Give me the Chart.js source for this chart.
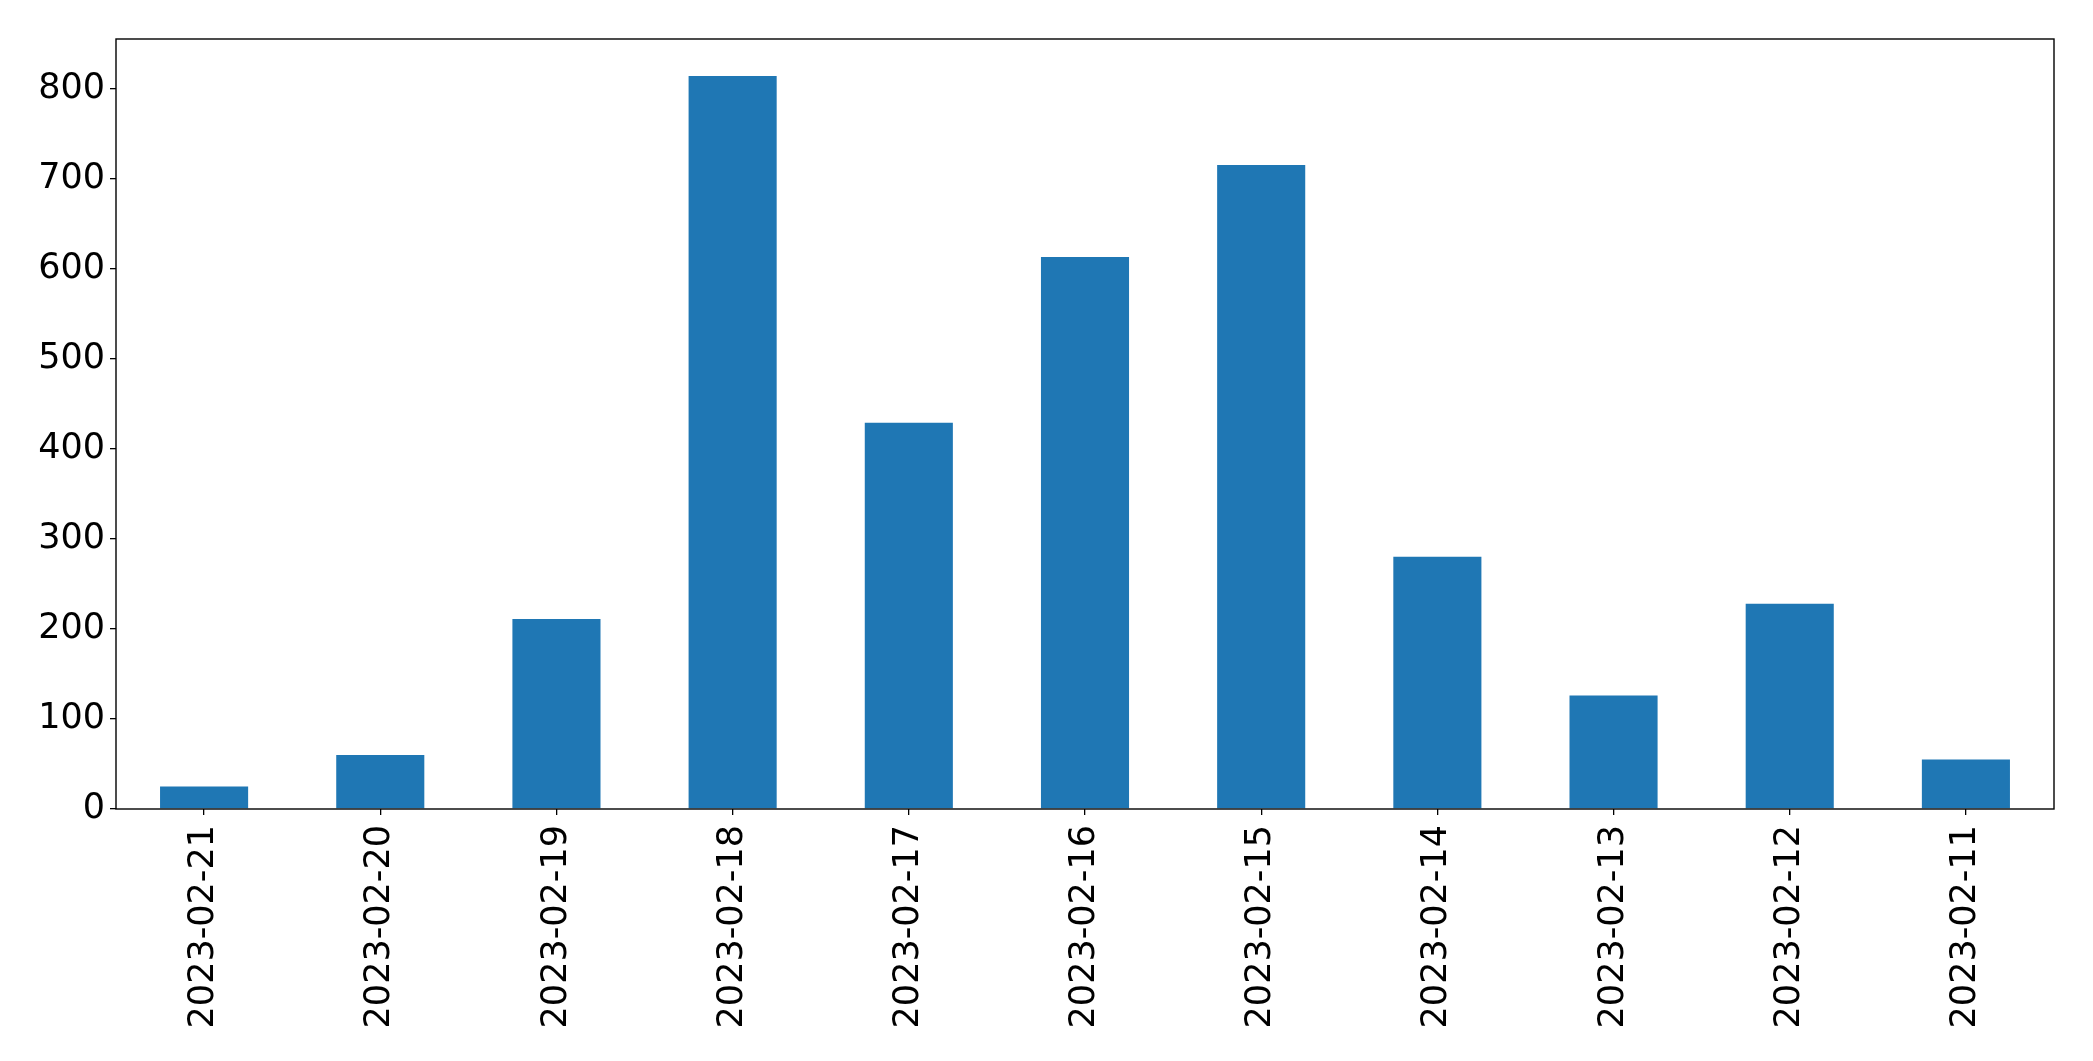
<!DOCTYPE html>
<html>
<head>
<meta charset="utf-8">
<script src="https://cdn.jsdelivr.net/npm/chart.js@4.4.0/dist/chart.umd.min.js"></script>
<style>
  html, body { margin: 0; padding: 0; background: #fff; }
  #wrap { width: 2093px; height: 1061px; position: relative; }
</style>
</head>
<body>
<div id="wrap"><canvas id="myChart"></canvas></div>
<script>
const dates = ['2023-02-21', '2023-02-20', '2023-02-19', '2023-02-18', '2023-02-17', '2023-02-16',
               '2023-02-15', '2023-02-14', '2023-02-13', '2023-02-12', '2023-02-11'];
const counts = [25, 60, 211, 814, 429, 613, 715, 280, 126, 228, 55];
const yTicks = [0, 100, 200, 300, 400, 500, 600, 700, 800];
const yMax = 855;

// box around the plot area, like the matplotlib frame
const frame = {
  id: 'frame',
  afterDatasetsDraw(chart) {
    const { ctx, chartArea: a } = chart;
    ctx.save();
    ctx.strokeStyle = '#000';
    ctx.lineWidth = 1.4;
    ctx.strokeRect(a.left, a.top, a.right - a.left, a.bottom - a.top);
    ctx.restore();
  }
};

const font = { family: 'DejaVu Sans', size: 35 };

const config = {
  type: 'bar',
  data: {
    labels: dates,
    datasets: [{
      data: counts,
      backgroundColor: '#1f77b4',
      barPercentage: 0.5,
      categoryPercentage: 1.0
    }]
  },
  options: {
    responsive: true,
    maintainAspectRatio: false,
    animation: false,
    layout: { padding: { left: 0, right: 39, top: 39, bottom: 0 } },
    plugins: {
      legend: { display: false },
      tooltip: { enabled: false }
    },
    scales: {
      x: {
        grid: { offset: false, drawOnChartArea: false, drawTicks: true, tickLength: 6, color: '#000', lineWidth: 1.3 },
        border: { display: false },
        ticks: {
          color: '#000',
          font,
          minRotation: 90,
          maxRotation: 90,
          autoSkip: false,
          padding: 10
        },
        afterFit(scale) { scale.height = 252; }
      },
      y: {
        min: 0,
        max: yMax,
        grid: { drawOnChartArea: false, drawTicks: true, tickLength: 6, color: '#000', lineWidth: 1.3 },
        border: { display: false },
        ticks: { color: '#000', font, padding: 5 },
        afterBuildTicks(scale) { scale.ticks = yTicks.map(v => ({ value: v })); },
        afterFit(scale) { scale.width = 116; }
      }
    }
  },
  plugins: [frame]
};

const myChart = new Chart(document.getElementById('myChart'), config);
</script>
</body>
</html>
